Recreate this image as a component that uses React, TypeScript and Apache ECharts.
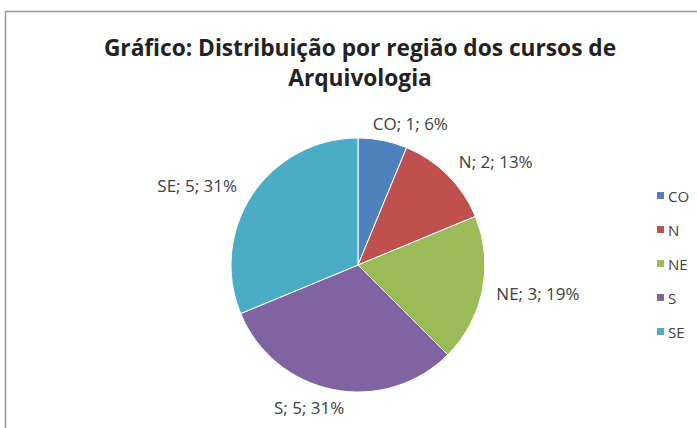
import React, { useEffect, useRef } from "react";
import * as echarts from "echarts";

const categories = ["CO", "N", "NE", "S", "SE"];
const values = [1, 2, 3, 5, 5];
const percents = ["6%", "13%", "19%", "31%", "31%"];
const colors = ["#4F81BD", "#C0504D", "#9BBB59", "#8064A2", "#4BACC6"];
const titleText = "Gráfico: Distribuição por região dos cursos de\nArquivologia";
// small nudges of data labels (Excel-like placement)
const labelNudgeX = [-19, -3, -3, 20, 0];
const labelNudgeY = [-7, -7, 2, 8, -3];

export default function App() {
  const ref = useRef<HTMLDivElement>(null);
  useEffect(() => {
    if (!ref.current) return;
    const chart = echarts.init(ref.current, undefined, { renderer: "svg" });
    chart.setOption({
      animation: false,
      backgroundColor: "#ffffff",
      title: {
        text: titleText,
        left: 355,
        textAlign: "center",
        top: 27,
        textStyle: {
          fontFamily: "Open Sans",
          fontWeight: "bold",
          fontSize: 22.7,
          color: "#222222",
          lineHeight: 30,
        },
      },
      graphic: [
        {
          type: "rect",
          shape: { x: 5.5, y: 11.5, width: 800, height: 600 },
          style: { fill: "none", stroke: "#9a9a9a", lineWidth: 1.5 },
          silent: true,
        },
      ],
      legend: {
        orient: "vertical",
        left: 650,
        top: 183,
        icon: "rect",
        itemWidth: 9,
        itemHeight: 9,
        itemGap: 19,
        textStyle: { fontFamily: "Open Sans", fontSize: 15, color: "#404040", padding: [0, 0, 0, -2] },
        data: categories,
      },
      series: [
        {
          type: "pie",
          center: [358, 265],
          radius: 127,
          startAngle: 90,
          clockwise: true,
          data: categories.map((c, i) => ({
            name: c,
            value: values[i],
            itemStyle: { color: colors[i] },
          })),
          label: {
            show: true,
            position: "outside",
            formatter: (p: any) => `${p.name}; ${p.value}; ${percents[p.dataIndex]}`,
            fontFamily: "Open Sans",
            fontSize: 17,
            color: "#404040",
          },
          labelLayout: (p: any) => ({ dx: labelNudgeX[p.dataIndex], dy: labelNudgeY[p.dataIndex] }),
          labelLine: { show: false, length: 10, length2: 2 },
          itemStyle: { borderColor: "#ffffff", borderWidth: 1 },
          emphasis: { disabled: true },
        },
      ],
    });
    return () => chart.dispose();
  }, []);
  return (
    <div
      ref={ref}
      style={{ position: "fixed", left: 0, top: 0, width: 697, height: 428 }}
    />
  );
}
